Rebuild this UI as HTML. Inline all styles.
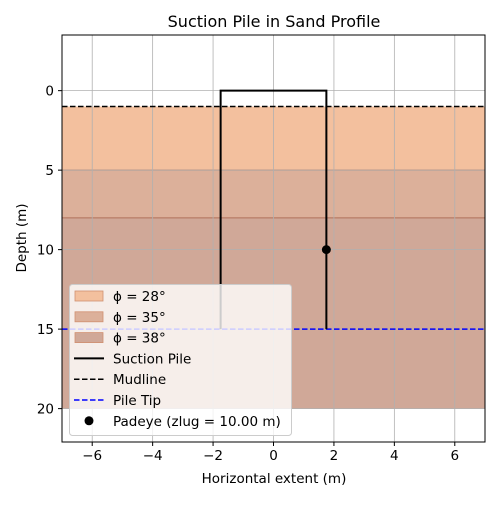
<!DOCTYPE html>
<html><head><meta charset="utf-8"><style>
body{margin:0;background:#fff;}
svg text{font-family:"DejaVu Sans","Liberation Sans",sans-serif;fill:#000;}
</style></head><body>
<svg id="chart" width="500" height="500" xmlns="http://www.w3.org/2000/svg">
<text x="274" y="27" font-size="16" text-anchor="middle">Suction Pile in Sand Profile</text>
<g id="layers"></g><g id="grid"></g><g id="marks"></g><g id="axes"></g>
<text x="274" y="483" font-size="13.5" text-anchor="middle">Horizontal extent (m)</text>
<text transform="translate(26,238) rotate(-90)" font-size="13.5" text-anchor="middle">Depth (m)</text>
<g id="legend"></g>
</svg>
<script>
const layerTops=[1,5,8];
const layerBottoms=[5,8,20];
const layerLabels=["ϕ = 28°","ϕ = 35°","ϕ = 38°"];
const layerColors=["#f3c09e","#dcb09a","#d0a898"];
const xTicks=[-6,-4,-2,0,2,4,6];
const yTicks=[0,5,10,15,20];
const pileHalfWidth=1.75, pileTop=0, pileTip=15, mudline=1, padeyeDepth=10;
const X0=62,X1=485,Y0=35,Y1=442,xmin=-7,xmax=7,ymin=-3.5,ymax=22.1;
const sx=v=>X0+(v-xmin)/(xmax-xmin)*(X1-X0);
const sy=v=>Y0+(v-ymin)/(ymax-ymin)*(Y1-Y0);
const NS="http://www.w3.org/2000/svg";
function mk(p,t,a){const e=document.createElementNS(NS,t);for(const k in a)e.setAttribute(k,a[k]);document.getElementById(p).appendChild(e);return e;}
layerTops.forEach((t,i)=>{
 const r=mk('layers','rect',{x:X0,y:sy(t),width:X1-X0,height:sy(layerBottoms[i])-sy(t),fill:layerColors[i]});
 
 
 if(i>0){const l=mk('layers','line',{x1:X0,x2:X1,y1:sy(t),y2:sy(t),stroke:'#b0705a','stroke-width':1});
 
 }
});
xTicks.forEach(v=>{const g=mk('grid','line',{x1:sx(v),x2:sx(v),y1:Y0,y2:Y1,stroke:'#b0b0b0','stroke-width':0.8});
 
 
 mk('axes','line',{x1:sx(v),x2:sx(v),y1:Y1,y2:Y1+4,stroke:'#000'});
 const t=mk('axes','text',{x:sx(v),y:Y1+18,'font-size':13.5,'text-anchor':'middle'});t.textContent=(v<0?'−'+(-v):v);
 
 });
yTicks.forEach(v=>{const g=mk('grid','line',{x1:X0,x2:X1,y1:sy(v),y2:sy(v),stroke:'#b0b0b0','stroke-width':0.8});
 
 
 mk('axes','line',{x1:X0-4,x2:X0,y1:sy(v),y2:sy(v),stroke:'#000'});
 const t=mk('axes','text',{x:X0-8,y:sy(v)+5,'font-size':13.5,'text-anchor':'end'});t.textContent=v;
 
 });
let e=mk('marks','line',{x1:X0,x2:X1,y1:sy(mudline),y2:sy(mudline),stroke:'#000','stroke-width':1.5,'stroke-dasharray':'5.5,2.5'});


e=mk('marks','line',{x1:X0,x2:X1,y1:sy(pileTip),y2:sy(pileTip),stroke:'#0000ff','stroke-width':1.5,'stroke-dasharray':'5.5,2.5'});


e=mk('marks','polyline',{points:`${sx(-pileHalfWidth)},${sy(pileTip)} ${sx(-pileHalfWidth)},${sy(pileTop)} ${sx(pileHalfWidth)},${sy(pileTop)} ${sx(pileHalfWidth)},${sy(pileTip)}`,fill:'none',stroke:'#000','stroke-width':2});


e=mk('marks','circle',{cx:sx(pileHalfWidth),cy:sy(padeyeDepth),r:4.5,fill:'#000'});


e=mk('axes','rect',{x:X0,y:Y0,width:X1-X0,height:Y1-Y0,fill:'none',stroke:'#000','stroke-width':1});


e=mk('legend','rect',{x:69.5,y:284.5,width:222,height:151,rx:3,fill:'#ffffff','fill-opacity':0.8,stroke:'#cccccc'});


const items=["ϕ = 28°","ϕ = 35°","ϕ = 38°","Suction Pile","Mudline","Pile Tip","Padeye (zlug = 10.00 m)"];
items.forEach((lab,i)=>{const y=296+i*20.8;
 let s;
 if(i<3){s=mk('legend','rect',{x:75,y:y-5,width:28,height:10,fill:layerColors[i],stroke:'#d09070','stroke-width':0.8});}
 else if(i==3){s=mk('legend','line',{x1:74,x2:104,y1:y,y2:y,stroke:'#000','stroke-width':2});}
 else if(i<6){s=mk('legend','line',{x1:74,x2:104,y1:y,y2:y,stroke:i==4?'#000':'#0000ff','stroke-width':1.5,'stroke-dasharray':'5.5,2.5'});}
 else{s=mk('legend','circle',{cx:89,cy:y,r:4.5,fill:'#000'});}
 
 
 const t=mk('legend','text',{x:113,y:y+5,'font-size':13.5});t.textContent=lab;
 
 });
</script>
</body></html>
